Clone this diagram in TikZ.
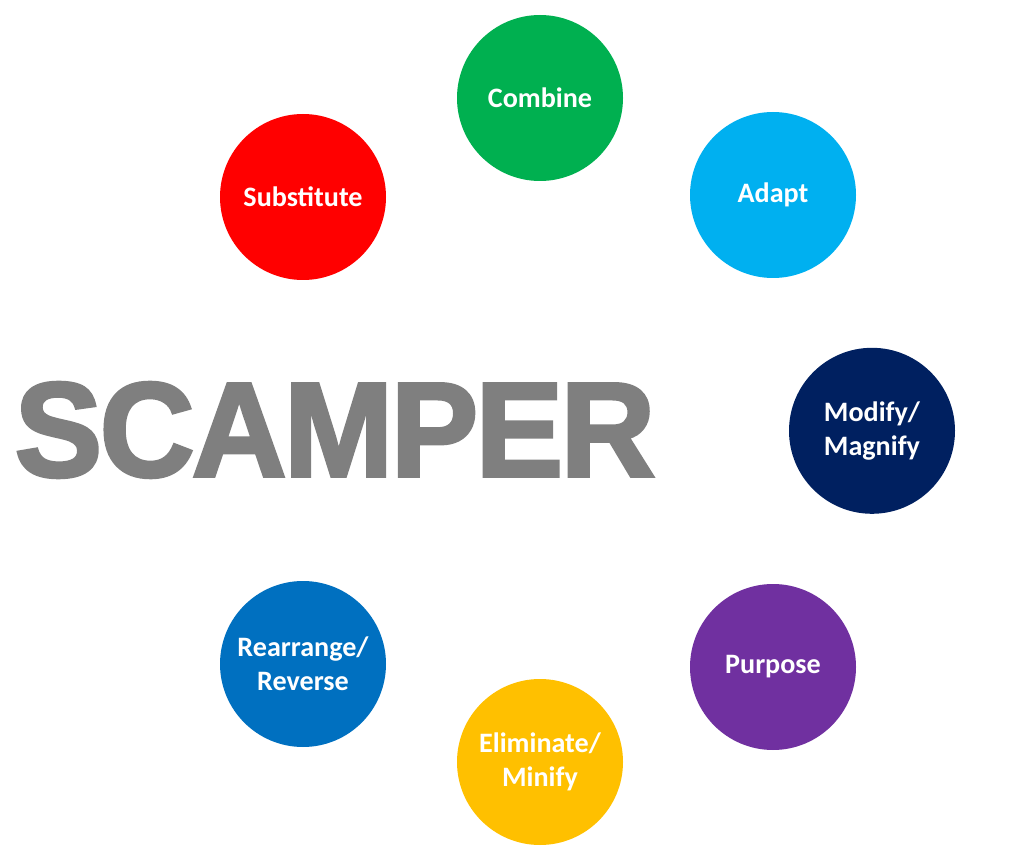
\documentclass[tikz,border=0pt]{standalone}
\usepackage{fontspec}
\setmainfont{Carlito}
\newfontfamily\bigfont[FakeBold=2.5,LetterSpace=-2]{Liberation Sans}
\usepackage{tikz}
\usetikzlibrary{positioning}

\definecolor{cgreen}{HTML}{00B050}
\definecolor{cblue}{HTML}{00B0F0}
\definecolor{cred}{HTML}{FF0000}
\definecolor{cnavy}{HTML}{002060}
\definecolor{cpurple}{HTML}{7030A0}
\definecolor{cyellow}{HTML}{FFC000}
\definecolor{cmid}{HTML}{0070C0}
\definecolor{cgrey}{HTML}{7F7F7F}

\begin{document}
\begin{tikzpicture}
		\useasboundingbox (0,0) rectangle (25.6,-21.6);
		\begin{scope}[every node/.style={circle, minimum size=4.15cm, inner sep=0pt, text=white, align=center, font=\fontsize{20}{24}\selectfont\bfseries}]
			\node[fill=cgreen] (combine) at (13.5,-2.45) {Combine};
			\node[fill=cblue] (adapt) at (19.325,-4.875) {Adapt};
			\node[fill=cred] (subst) at (7.575,-4.925) {Substitute};
			\node[fill=cnavy] (modify) at (21.8,-10.77) {Modify/\\Magnify};
			\node[fill=cpurple] (purpose) at (19.325,-16.675) {Purpose};
			\node[fill=cyellow] (elim) at (13.5,-19.05) {Eliminate/\\Minify};
			\node[fill=cmid] (rearr) at (7.575,-16.6) {Rearrange/\\Reverse};
		\end{scope}
		\node[text=cgrey, font=\bigfont\fontsize{92}{92}\selectfont\bfseries, inner sep=0pt, yscale=1.04, xscale=1.015] (scamper) at (8.375,-10.75) {SCAMPER};
	\end{tikzpicture}
\end{document}
